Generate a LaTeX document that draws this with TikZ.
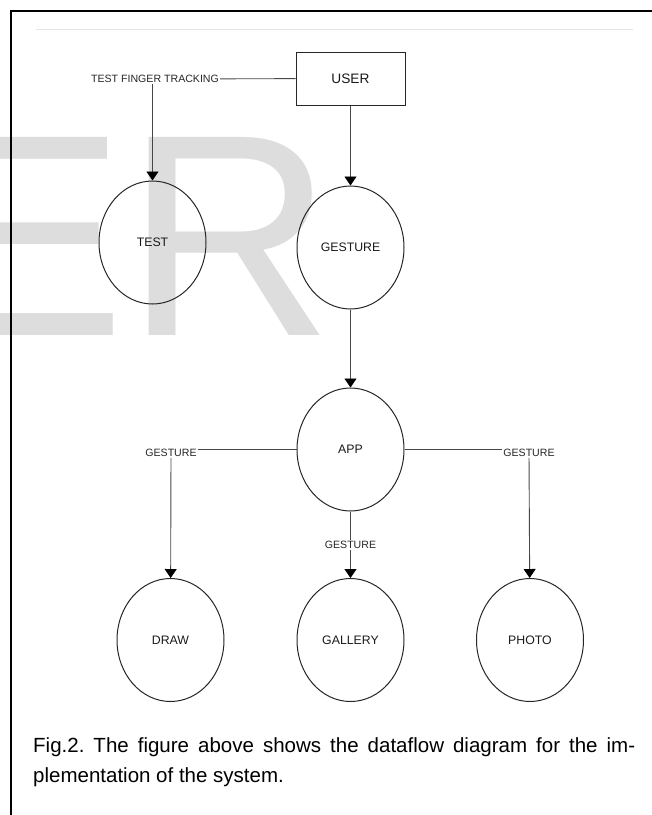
\documentclass[tikz,border=0pt]{standalone}
\usepackage{fontspec}
\setmainfont{Liberation Sans}
\usepackage{tikz}
\usetikzlibrary{shapes.geometric}
\usetikzlibrary{arrows.meta}
\definecolor{wmark}{HTML}{DDDDDD}
\definecolor{rulegray}{HTML}{E4E4E4}
\tikzset{proc/.style={ellipse, draw=black!85, line width=1pt, minimum width=107pt,
   minimum height=123pt, inner sep=0pt, text=black!90, font=\fontsize{12.3}{14}\selectfont},
 entity/.style={draw=black!85, line width=1pt, minimum width=109pt, minimum height=53pt,
   text=black!90, font=\fontsize{13.7}{16}\selectfont},
 lbl/.style={inner sep=1pt, text=black!85, font=\fontsize{10.6}{12}\selectfont},
 flow/.style={draw=black!72, line width=0.9pt},
 arr/.style={flow, -{Triangle[width=12pt,length=9pt,color=black]}},
 }

\begin{document}
\frenchspacing
\begin{tikzpicture}[x=1pt, y=-1pt]
    \useasboundingbox (0,0) rectangle (652,815);
    \node[anchor=base west, inner sep=0pt, text=wmark, font=\fontsize{288}{288}\selectfont] (mark) at (-67,335) {ER};
    \draw[line width=2pt] (11,815) -- (11,11) -- (652,11);
    \draw[rulegray, line width=1pt] (36,29) -- (633,29);

    \node[entity] (user) at (350.5,78.5) {USER};
    \node[lbl] (track) at (155,79) {TEST FINGER TRACKING};
    \node[proc] (test) at (152.5,242.5) {TEST};
    \node[proc] (gesture) at (350.5,247.5) {GESTURE};
    \node[proc] (app) at (350.5,449.5) {APP};
    \foreach \n/\x/\t in {drawing/170.5/DRAW, gallery/350.5/GALLERY, photo/530/PHOTO} {
        \node[proc] (\n) at (\x,640) {\t};
    }
    \node[lbl] (gl) at (171,453) {GESTURE};
    \node[lbl] (gm) at (350.5,545) {GESTURE};
    \node[lbl] (gr) at (529,453) {GESTURE};

    \draw[flow] (user) -- (track);
    \draw[arr] (test.north |- track.south) -- (test);
    \draw[arr] (user) -- (gesture);
    \draw[arr] (gesture) -- (app);
    \draw[flow] (app) -- (app -| gl.east);
    \draw[arr] (gl) -- (drawing);
    \draw[flow] (app) -- (gm);
    \draw[arr] (gm) -- (gallery);
    \draw[flow] (app) -- (app -| gr.west);
    \draw[arr] (gr) -- (photo);

    \node[anchor=north west, inner sep=0pt, text width=602pt, align=justify,
        font=\fontsize{20.5}{30}\selectfont] (caption) at (33,737)
        {Fig.2. The figure above shows the dataflow diagram for the im-\linebreak plementation of the system.};
\end{tikzpicture}
\end{document}
